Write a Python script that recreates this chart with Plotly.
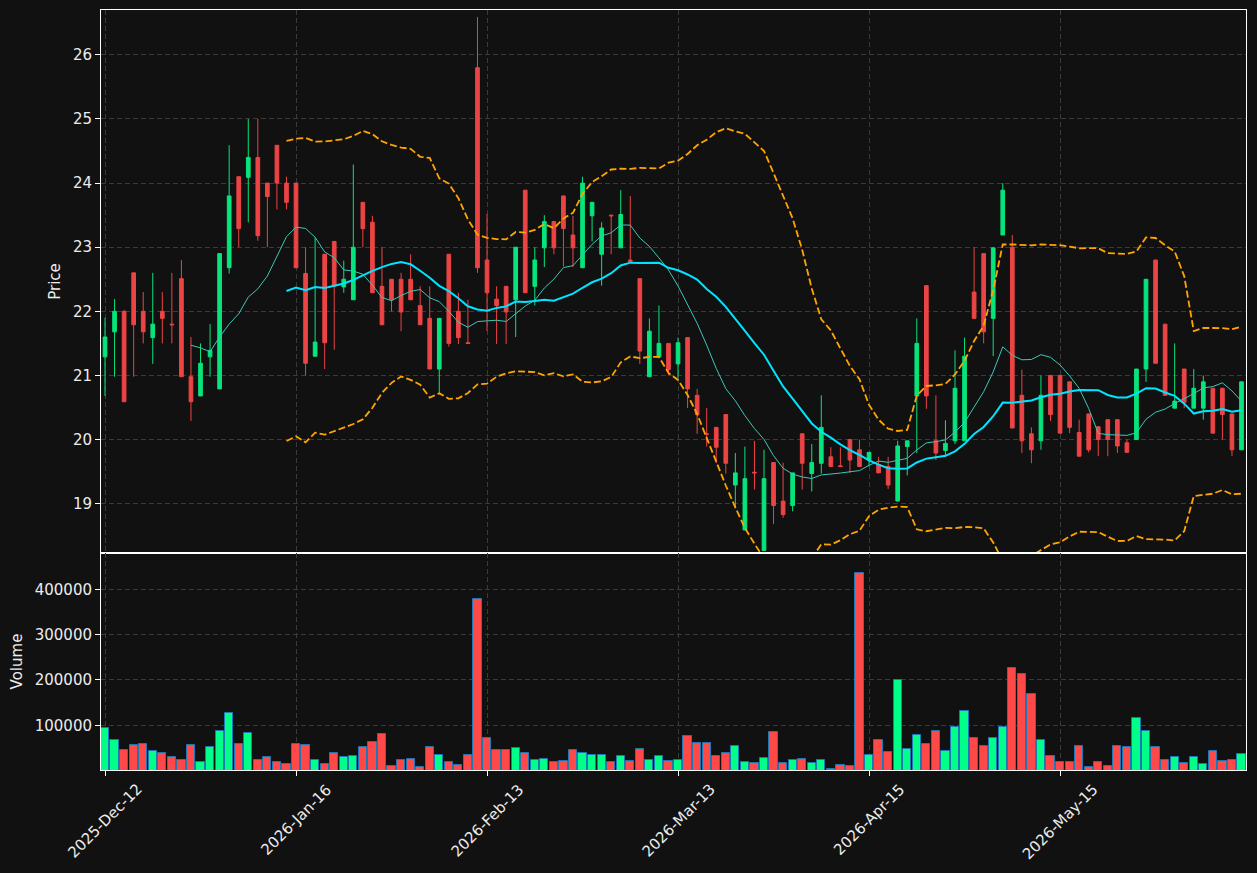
import pandas as pd
import plotly.graph_objects as go

# ---- data ----
HOLIDAYS = ['2025-12-24', '2025-12-25', '2025-12-26', '2025-12-31', '2026-01-01',
            '2026-04-02', '2026-04-03', '2026-04-06', '2026-05-01', '2026-05-04', '2026-05-25']
DATES = [d.strftime('%Y-%m-%d') for d in
         pd.bdate_range('2025-12-12', '2026-06-12', freq='C', holidays=HOLIDAYS)]
TICK_DATES = ['2025-12-12', '2026-01-16', '2026-02-13', '2026-03-13', '2026-04-15', '2026-05-15']

OPEN = [21.29, 21.68, 22.00, 22.60, 22.00, 21.59, 22.00, 21.80, 22.51, 20.98,
        20.68, 21.29, 20.79, 22.68, 24.10, 24.09, 24.40, 24.00, 24.59, 24.00,
        24.00, 22.59, 21.30, 22.89, 23.09, 22.38, 22.18, 23.70, 23.39, 22.39,
        22.50, 22.50, 22.50, 22.09, 21.89, 21.10, 22.89, 22.00, 21.51, 25.80,
        22.80, 22.19, 22.39, 22.18, 23.89, 22.39, 22.99, 23.40, 23.80, 23.19,
        22.68, 23.49, 22.89, 23.50, 22.99, 22.80, 22.51, 20.98, 21.29, 21.50,
        21.18, 21.59, 20.69, 20.09, 20.19, 20.39, 19.29, 18.59, 19.49, 18.27,
        19.64, 19.04, 18.97, 20.09, 19.47, 19.63, 19.73, 19.59, 20.00, 19.84,
        19.68, 19.61, 19.58, 19.04, 19.89, 20.68, 22.40, 19.98, 19.83, 19.98,
        19.98, 22.30, 22.90, 21.89, 23.19, 23.00, 20.69, 20.09, 19.98, 21.00,
        21.00, 20.90, 20.11, 20.40, 20.20, 20.31, 20.31, 19.95, 20.00, 21.10,
        22.80, 21.80, 20.49, 21.10, 20.49, 20.49, 20.80, 20.80, 20.40, 19.84]
HIGH = [21.90, 22.19, 22.02, 22.60, 22.30, 22.60, 22.30, 22.60, 22.80, 21.60,
        21.50, 21.80, 22.90, 24.59, 24.10, 25.00, 25.00, 24.00, 24.59, 24.10,
        24.00, 23.00, 23.15, 22.89, 23.09, 22.79, 24.29, 23.70, 23.49, 23.00,
        22.50, 22.60, 22.89, 22.39, 22.39, 21.89, 22.89, 22.29, 22.18, 26.59,
        23.52, 22.39, 22.39, 23.00, 23.89, 23.00, 23.50, 23.40, 23.80, 23.49,
        24.10, 23.70, 23.39, 23.50, 23.89, 23.80, 22.51, 21.89, 22.09, 21.50,
        21.59, 21.59, 20.79, 20.49, 20.19, 20.39, 19.79, 19.89, 19.98, 19.84,
        19.64, 19.64, 19.48, 20.09, 19.93, 20.69, 19.88, 19.88, 20.00, 20.00,
        19.80, 19.73, 19.73, 19.98, 19.98, 21.89, 22.40, 20.69, 20.30, 21.39,
        21.59, 23.00, 22.90, 22.99, 24.00, 23.19, 21.09, 20.19, 21.00, 21.00,
        21.00, 20.90, 20.31, 20.40, 20.20, 20.31, 20.31, 20.00, 21.10, 22.50,
        22.80, 21.80, 21.50, 21.10, 21.10, 21.00, 20.80, 20.80, 20.40, 20.90]
LOW = [20.68, 20.98, 20.59, 20.98, 21.50, 21.18, 21.50, 21.50, 20.98, 20.29,
       20.68, 20.98, 20.79, 22.59, 23.00, 23.39, 23.10, 23.00, 23.59, 23.59,
       22.68, 21.00, 21.30, 21.10, 21.40, 22.29, 22.18, 23.00, 22.29, 21.79,
       22.00, 21.69, 22.18, 21.79, 21.10, 20.70, 21.45, 21.49, 21.49, 22.60,
       21.69, 21.49, 21.49, 21.60, 22.29, 22.09, 22.69, 22.89, 22.70, 22.69,
       22.68, 23.09, 22.40, 22.89, 22.99, 22.78, 21.18, 20.98, 21.29, 21.00,
       20.96, 20.49, 20.09, 19.89, 19.63, 19.47, 18.93, 18.59, 19.22, 18.27,
       18.68, 18.78, 18.88, 19.22, 19.19, 19.47, 19.58, 19.58, 19.48, 19.58,
       19.58, 19.48, 19.23, 19.04, 19.44, 19.79, 20.48, 19.68, 19.73, 19.93,
       19.98, 21.89, 21.50, 21.30, 23.19, 20.18, 19.79, 19.63, 19.84, 20.29,
       20.10, 20.10, 19.74, 19.80, 19.74, 19.74, 19.79, 19.80, 20.00, 20.90,
       21.19, 20.69, 20.49, 20.49, 20.49, 20.31, 20.10, 20.00, 19.74, 19.84]
CLOSE = [21.60, 22.00, 20.59, 21.79, 21.68, 21.80, 21.89, 21.79, 20.98, 20.59,
         21.19, 21.39, 22.90, 23.80, 23.29, 24.40, 23.18, 23.79, 24.00, 23.70,
         22.68, 21.19, 21.52, 21.51, 22.39, 22.50, 23.00, 23.29, 22.29, 21.79,
         22.18, 21.99, 22.18, 21.79, 21.10, 21.89, 21.50, 21.59, 21.50, 22.68,
         22.29, 22.09, 21.99, 23.00, 22.29, 22.80, 23.40, 22.99, 23.29, 22.99,
         24.00, 23.70, 23.30, 23.49, 23.51, 22.78, 21.38, 21.69, 21.50, 21.09,
         21.51, 20.79, 20.39, 20.08, 19.88, 19.63, 19.48, 19.39, 19.48, 19.39,
         18.97, 18.83, 19.48, 19.63, 19.64, 20.19, 19.58, 19.58, 19.68, 19.58,
         19.80, 19.48, 19.29, 19.90, 19.98, 21.50, 20.68, 19.79, 19.94, 20.80,
         21.30, 21.89, 21.68, 22.99, 23.89, 20.18, 19.98, 19.84, 20.69, 20.39,
         20.10, 20.19, 19.74, 19.84, 20.00, 20.00, 19.90, 19.80, 21.10, 22.50,
         21.19, 20.69, 20.60, 20.58, 20.80, 20.90, 20.10, 20.39, 19.84, 20.90]
VOLUME = [93300, 66900, 46300, 55900, 58100, 42600, 38200, 29400, 24300, 55900,
          18400, 52900, 86700, 126400, 58100, 82300, 24300, 29400, 18400, 15400,
          58100, 55900, 24300, 15400, 38200, 29400, 31600, 51400, 62500, 80100,
          9600, 22800, 25000, 7400, 51400, 33800, 18400, 11800, 33800, 377800,
          71300, 46300, 44800, 49200, 38200, 22800, 25000, 18400, 20600, 44800,
          38200, 33800, 33800, 18400, 31600, 20600, 47000, 24300, 31600, 20600,
          22800, 75700, 60300, 60300, 31600, 38200, 53700, 18400, 16200, 27200,
          84500, 16200, 22800, 25000, 16200, 22800, 3700, 11800, 10300, 435100,
          33800, 66900, 40400, 199200, 47000, 77900, 58100, 86700, 42600, 95600,
          130800, 71300, 53700, 71300, 95600, 225600, 212400, 168300, 66900, 31600,
          18400, 18400, 53700, 7400, 18400, 9600, 53700, 51400, 115400, 86700,
          51400, 22800, 29400, 16200, 29400, 14000, 42600, 20600, 22800, 36000]

# ---- derived indicators ----
close_s = pd.Series(CLOSE)
ma10 = close_s.rolling(10).mean()
ma20 = close_s.rolling(20).mean()
sd20 = close_s.rolling(20).std(ddof=0)
upper = ma20 + 2 * sd20
lower = ma20 - 2 * sd20

idx = list(range(len(CLOSE)))
tickvals = [DATES.index(d) for d in TICK_DATES]
ticktext = [pd.Timestamp(d).strftime('%Y-%b-%d') for d in TICK_DATES]

BG = '#111111'
FG = '#ececec'
GRID = '#3a3a3a'
FONT = 'DejaVu Sans'
FS = 15
vol_colors = ['#00ff88' if c >= o else '#ff4848' for o, c in zip(OPEN, CLOSE)]

fig = go.Figure()
fig.add_trace(go.Candlestick(
    x=idx, open=OPEN, high=HIGH, low=LOW, close=CLOSE,
    increasing=dict(line=dict(color='#06e57c', width=1), fillcolor='#06e57c'),
    decreasing=dict(line=dict(color='#ec4444', width=1), fillcolor='#ec4444'),
    whiskerwidth=0, xaxis='x', yaxis='y', showlegend=False, hoverinfo='skip'))
fig.add_trace(go.Scatter(x=idx, y=ma10, mode='lines', line=dict(color='#3cc8b8', width=1),
                         xaxis='x', yaxis='y', showlegend=False))
fig.add_trace(go.Scatter(x=idx, y=ma20, mode='lines', line=dict(color='#00e5ff', width=2),
                         xaxis='x', yaxis='y', showlegend=False))
for band in (upper, lower):
    fig.add_trace(go.Scatter(x=idx, y=band, mode='lines',
                             line=dict(color='#ffa500', width=1.8, dash='7px,3px'),
                             xaxis='x', yaxis='y', showlegend=False))
fig.add_trace(go.Bar(x=idx, y=VOLUME, width=0.86,
                     marker=dict(color=vol_colors, line=dict(color='#1f77b4', width=1)),
                     xaxis='x2', yaxis='y2', showlegend=False))

axis_common = dict(showline=True, mirror=True, linecolor='white', linewidth=1,
                   showgrid=True, gridcolor=GRID, griddash='5px,3px', gridwidth=1,
                   zeroline=False, tickfont=dict(family=FONT, size=FS, color=FG),
                   tickcolor='white', ticklen=5, tickwidth=1)
xr = [-0.42, 119.47]

annotations = [dict(text=t, x=v, xref='x2', y=0, yref='paper', xanchor='center',
                    yanchor='top', yshift=-8, textangle=-45, showarrow=False,
                    font=dict(family=FONT, size=FS, color=FG))
               for v, t in zip(tickvals, ticktext)]

fig.update_layout(
    width=1257, height=873,
    margin=dict(l=101, r=11, t=10, b=103),
    paper_bgcolor=BG, plot_bgcolor=BG,
    font=dict(family=FONT, size=FS, color=FG),
    bargap=0, boxgap=0.45,
    annotations=annotations,
    xaxis=dict(axis_common, domain=[0, 1], anchor='y', range=xr, tickvals=tickvals,
               showticklabels=False, ticks='', rangeslider=dict(visible=False)),
    yaxis=dict(axis_common, domain=[0.2855, 1], anchor='x', range=[18.23, 26.70],
               tickvals=[19, 20, 21, 22, 23, 24, 25, 26], ticks='outside',
               title=dict(text='Price', font=dict(family=FONT, size=FS, color=FG), standoff=8)),
    xaxis2=dict(axis_common, domain=[0, 1], anchor='y2', range=xr, matches='x',
                tickvals=tickvals, showticklabels=False, ticks='outside'),
    yaxis2=dict(axis_common, domain=[0, 0.2855], anchor='x2', range=[1500, 480000],
                tickvals=[100000, 200000, 300000, 400000], tickformat='d', ticks='outside',
                title=dict(text='Volume', font=dict(family=FONT, size=FS, color=FG), standoff=8)),
)

fig.write_html('out.html')
